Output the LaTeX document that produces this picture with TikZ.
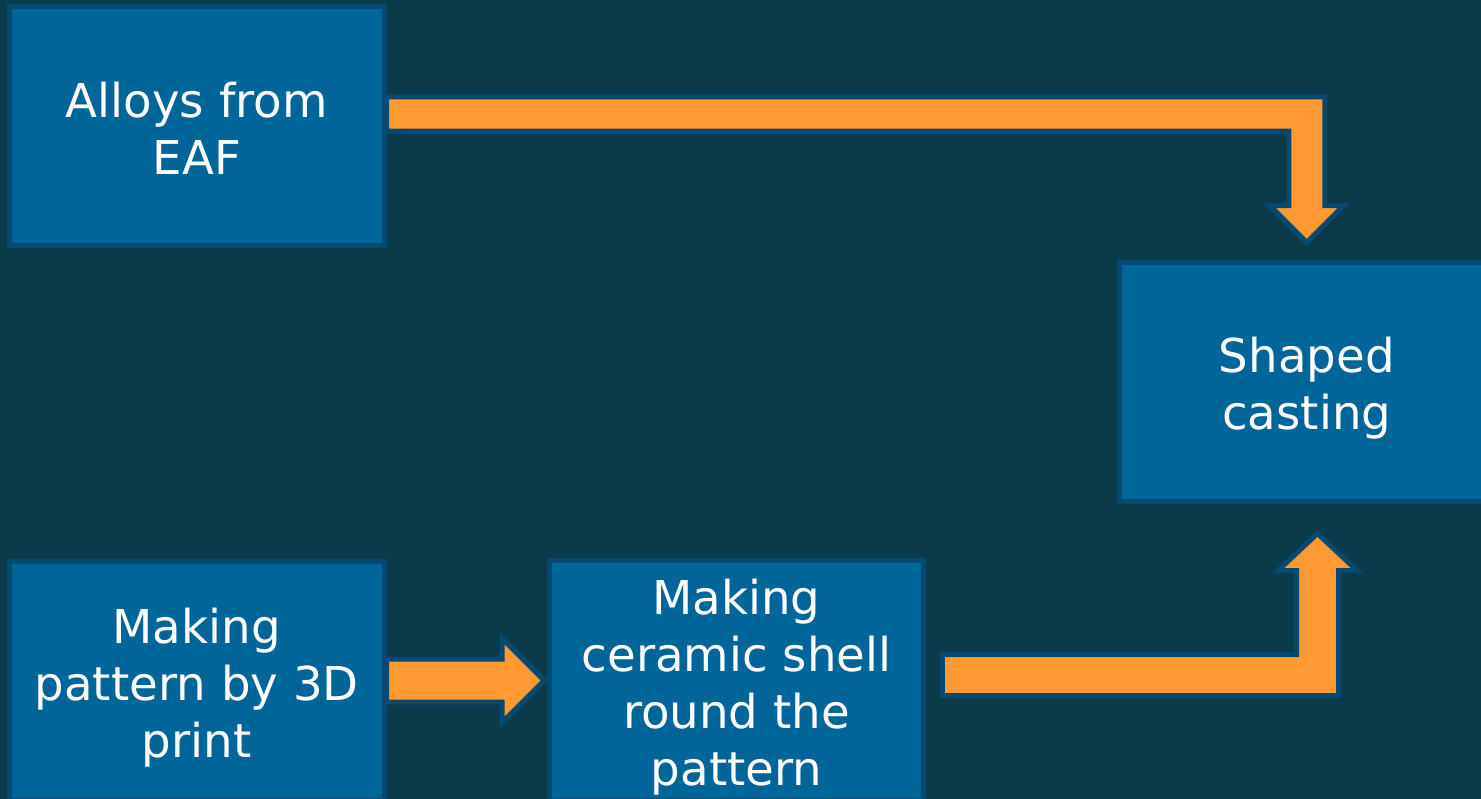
\documentclass[tikz,border=0pt]{standalone}
\usepackage{fontspec}
\setmainfont{DejaVu Sans}
\usetikzlibrary{calc}
\definecolor{bgteal}{RGB}{11,58,74}
\definecolor{boxblue}{RGB}{0,101,153}
\definecolor{edgeblue}{RGB}{6,73,113}
\definecolor{flow}{RGB}{255,153,51}
\pgfdeclarelayer{backdrop}
\pgfdeclarelayer{flows}
\pgfsetlayers{backdrop,flows,main}
% uniform line boxes so every stage text sits at the same height
\newcommand{\stagetop}{\rule{0pt}{40.25pt}}
\newcommand{\stagebot}{\rule[-11pt]{0pt}{0pt}}
\begin{document}
\begin{tikzpicture}[x=0.75pt,y=-0.75pt,
  stage/.style={draw=edgeblue, line width=3.75pt, fill=boxblue, text=white,
    minimum width=280.9pt, minimum height=179.25pt, inner sep=0pt,
    align=center, font=\fontsize{35pt}{42.75pt}\selectfont},
  blockarrow/.style={draw=edgeblue, fill=flow, line width=3.75pt, line join=miter}]
\useasboundingbox (0,0) rectangle (1481,799);
\begin{pgfonlayer}{backdrop}
  \fill[bgteal] (0,0) rectangle (1481,799);
\end{pgfonlayer}

% process stages
\node[stage] (alloys)  at (196.75,126)   {\stagetop Alloys from\\EAF\stagebot};
\node[stage] (casting) at (1306.75,381.5) {\stagetop Shaped\\casting\stagebot};
\node[stage] (pattern) at (196.75,680.5) {\stagetop Making\\pattern by 3D\\print\stagebot};
\node[stage] (shell)   at (736.5,680.5)  {\stagetop Making\\ceramic shell\\round the\\pattern\stagebot};

% flow arrows
\coordinate (a1s) at ($(alloys.east)+(0,-12)$);
\coordinate (a1c) at (casting.north |- a1s);
\coordinate (a1e) at ($(casting.north)+(0,-17)$);

\coordinate (a2s) at ($(shell.east)+(16,-5.5)$);
\coordinate (a2c) at ($(casting.south)+(10.75,0)$);
\coordinate (a2k) at (a2c |- a2s);
\coordinate (a2e) at ($(casting.south)+(10.75,30)$);

\coordinate (a3s) at (pattern.east);
\coordinate (a3e) at ($(shell.west)+(-2.5,0)$);

\begin{pgfonlayer}{flows}
  % alloys -> casting
  \draw[blockarrow] ($(a1s)+(0,-17)$) -- ($(a1c)+(18,-17)$) -- ($(a1e)+(18,-37)$)
    -- ($(a1e)+(37,-37)$) -- (a1e) -- ($(a1e)+(-37,-37)$) -- ($(a1e)+(-18,-37)$)
    -- ($(a1c)+(-18,17)$) -- ($(a1s)+(0,17)$) -- cycle;
  % shell -> casting
  \draw[blockarrow] ($(a2s)+(0,-20.5)$) -- ($(a2k)+(-21,-20.5)$) -- ($(a2e)+(-21,37)$)
    -- ($(a2e)+(-39.5,37)$) -- (a2e) -- ($(a2e)+(39.5,37)$) -- ($(a2e)+(21,37)$)
    -- ($(a2k)+(21,20.5)$) -- ($(a2s)+(0,20.5)$) -- cycle;
  % pattern -> shell
  \draw[blockarrow] ($(a3s)+(0,-21.5)$) -- ($(a3e)+(-42,-21.5)$) -- ($(a3e)+(-42,-42)$)
    -- (a3e) -- ($(a3e)+(-42,42)$) -- ($(a3e)+(-42,21.5)$) -- ($(a3s)+(0,21.5)$) -- cycle;
\end{pgfonlayer}
\end{tikzpicture}
\end{document}
